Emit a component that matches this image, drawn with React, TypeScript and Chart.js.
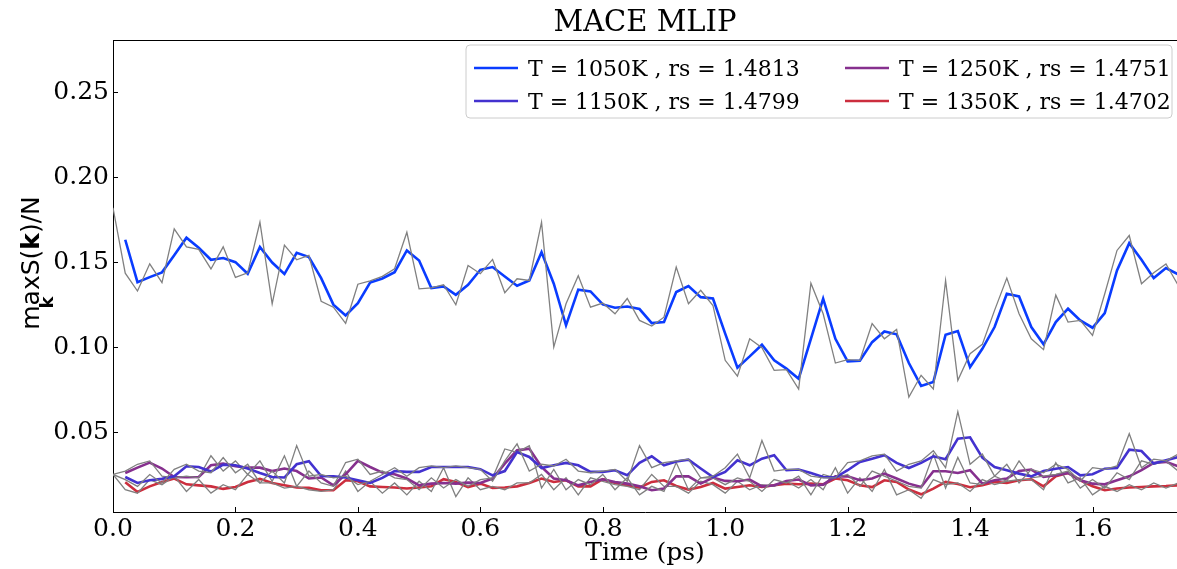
import React, { useEffect, useRef } from "react";
import { Chart, registerables } from "chart.js";

Chart.register(...registerables);

const TITLE = "MACE MLIP";
const X_LABEL = "Time (ps)";
const X_TICKS = [0.0, 0.2, 0.4, 0.6, 0.8, 1.0, 1.2, 1.4, 1.6];
const Y_TICKS = [0.05, 0.1, 0.15, 0.2, 0.25];
const SERIES_LABELS = [
  "T = 1050K , rs = 1.4813",
  "T = 1150K , rs = 1.4799",
  "T = 1250K , rs = 1.4751",
  "T = 1350K , rs = 1.4702",
];
const SERIES_COLORS = ["#0a3cff", "#4332cf", "#86308e", "#cc2e3e"];
const RAW_COLOR = "#808080";

const TIME = [
  0, 0.02, 0.04, 0.06, 0.08, 0.1, 0.12, 0.14, 0.16, 0.18,
  0.2, 0.22, 0.24, 0.26, 0.28, 0.3, 0.32, 0.34, 0.36, 0.38,
  0.4, 0.42, 0.44, 0.46, 0.48, 0.5, 0.52, 0.54, 0.56, 0.58,
  0.6, 0.62, 0.64, 0.66, 0.68, 0.7, 0.72, 0.74, 0.76, 0.78,
  0.8, 0.82, 0.84, 0.86, 0.88, 0.9, 0.92, 0.94, 0.96, 0.98,
  1.0, 1.02, 1.04, 1.06, 1.08, 1.1, 1.12, 1.14, 1.16, 1.18,
  1.2, 1.22, 1.24, 1.26, 1.28, 1.3, 1.32, 1.34, 1.36, 1.38,
  1.4, 1.42, 1.44, 1.46, 1.48, 1.5, 1.52, 1.54, 1.56, 1.58,
  1.6, 1.62, 1.64, 1.66, 1.68, 1.7, 1.72, 1.74,
];

// raw (gray) curves
const RAW_1050 = [
  0.182, 0.1435, 0.133, 0.149, 0.138, 0.1696, 0.159, 0.1575, 0.146, 0.159,
  0.141, 0.1437, 0.1735, 0.1255, 0.16, 0.1514, 0.154, 0.127, 0.1235, 0.114,
  0.137, 0.139, 0.1416, 0.1461, 0.1676, 0.1343, 0.1349, 0.1367, 0.1249, 0.148,
  0.1432, 0.1516, 0.132, 0.1402, 0.1392, 0.1735, 0.1, 0.1255, 0.142, 0.1235,
  0.1259, 0.1196, 0.1286, 0.1157, 0.1124, 0.1176, 0.1471, 0.1255, 0.1334, 0.1245,
  0.0922, 0.0829, 0.1049, 0.0996, 0.0863, 0.0867, 0.0753, 0.1376, 0.1196, 0.0906,
  0.0926, 0.0922, 0.1138, 0.1049, 0.1104, 0.0706, 0.0834, 0.0753, 0.1392, 0.0804,
  0.0961, 0.1016, 0.1216, 0.1406, 0.1196, 0.1049, 0.0985, 0.1306, 0.1147, 0.1157,
  0.1069, 0.1314, 0.1569, 0.1657, 0.1373, 0.1438, 0.149, 0.1363,
];
const RAW_1150 = [
  0.025, 0.022, 0.018, 0.025, 0.02, 0.028, 0.031, 0.027, 0.026, 0.035,
  0.026, 0.031, 0.02, 0.027, 0.02, 0.042, 0.024, 0.025, 0.023, 0.024,
  0.019, 0.021, 0.025, 0.029, 0.024, 0.029, 0.03, 0.029, 0.03, 0.029,
  0.028, 0.021, 0.033, 0.043, 0.027, 0.031, 0.03, 0.034, 0.027, 0.026,
  0.027, 0.028, 0.021, 0.042, 0.029, 0.032, 0.033, 0.034, 0.023, 0.024,
  0.029, 0.037, 0.023, 0.045, 0.027, 0.028, 0.028, 0.024, 0.023, 0.023,
  0.032, 0.033, 0.036, 0.037, 0.027, 0.031, 0.033, 0.039, 0.029, 0.062,
  0.031, 0.037, 0.024, 0.031, 0.02, 0.028, 0.026, 0.031, 0.028, 0.021,
  0.029, 0.028, 0.03, 0.049, 0.029, 0.034, 0.033, 0.037,
];
const RAW_1250 = [
  0.025, 0.027, 0.031, 0.033, 0.024, 0.023, 0.024, 0.023, 0.036, 0.027,
  0.033, 0.025, 0.033, 0.021, 0.036, 0.018, 0.027, 0.02, 0.018, 0.032,
  0.034, 0.025, 0.027, 0.023, 0.022, 0.016, 0.023, 0.017, 0.022, 0.018,
  0.022, 0.023, 0.04, 0.038, 0.042, 0.017, 0.028, 0.016, 0.022, 0.019,
  0.025, 0.016, 0.023, 0.013, 0.018, 0.015, 0.032, 0.016, 0.023, 0.023,
  0.019, 0.023, 0.021, 0.015, 0.022, 0.02, 0.024, 0.013, 0.025, 0.023,
  0.025, 0.018, 0.027, 0.024, 0.021, 0.018, 0.017, 0.037, 0.017, 0.035,
  0.02, 0.019, 0.024, 0.021, 0.033, 0.023, 0.024, 0.025, 0.027, 0.017,
  0.022, 0.017, 0.026, 0.022, 0.033, 0.031, 0.033, 0.027,
];
const RAW_1350 = [
  0.025, 0.016, 0.014, 0.022, 0.019, 0.024, 0.015, 0.022, 0.014, 0.019,
  0.016, 0.025, 0.02, 0.02, 0.017, 0.018, 0.016, 0.015, 0.016, 0.027,
  0.015, 0.021, 0.014, 0.02, 0.013, 0.021, 0.015, 0.029, 0.012, 0.023,
  0.016, 0.018, 0.016, 0.02, 0.02, 0.025, 0.016, 0.023, 0.013, 0.023,
  0.021, 0.019, 0.018, 0.016, 0.025, 0.018, 0.018, 0.014, 0.021, 0.019,
  0.014, 0.021, 0.016, 0.019, 0.018, 0.021, 0.017, 0.022, 0.016, 0.029,
  0.014, 0.023, 0.015, 0.028, 0.013, 0.016, 0.011, 0.022, 0.019, 0.02,
  0.015, 0.022, 0.019, 0.021, 0.022, 0.022, 0.016, 0.032, 0.02, 0.023,
  0.013, 0.018, 0.015, 0.019, 0.016, 0.02, 0.017, 0.02,
];

// smoothed (coloured) curves, first sample undefined
const SMOOTH_1050 = [
  null, 0.1632, 0.1382, 0.1412, 0.144, 0.154, 0.1644, 0.1585, 0.1514, 0.1524,
  0.15, 0.1432, 0.159, 0.1498, 0.143, 0.1555, 0.153, 0.1406, 0.125, 0.1186,
  0.1259, 0.138, 0.1404, 0.1441, 0.1569, 0.151, 0.1347, 0.1357, 0.1308, 0.1367,
  0.1455, 0.1471, 0.1416, 0.1361, 0.1392, 0.1559, 0.1373, 0.1128, 0.1338, 0.1328,
  0.1251, 0.1232, 0.1239, 0.1224, 0.1141, 0.1147, 0.1324, 0.1359, 0.1294, 0.1286,
  0.1079, 0.0879, 0.0945, 0.1014, 0.0922, 0.0873, 0.0814, 0.1049, 0.1285, 0.1049,
  0.0916, 0.092, 0.1029, 0.1092, 0.1075, 0.0906, 0.0771, 0.0794, 0.1073, 0.1094,
  0.0882, 0.099, 0.1118, 0.1314, 0.1298, 0.1118, 0.1016, 0.1147, 0.1226, 0.1157,
  0.1114, 0.12, 0.1451, 0.1612, 0.1514, 0.1406, 0.1465, 0.1428,
];
const SMOOTH_1150 = [
  null, 0.0235, 0.02, 0.0216, 0.0224, 0.0239, 0.0298, 0.0294, 0.0267, 0.0308,
  0.0304, 0.0285, 0.0259, 0.0235, 0.0232, 0.031, 0.0328, 0.0241, 0.0239, 0.0232,
  0.0216, 0.02, 0.023, 0.027, 0.0265, 0.0265, 0.0294, 0.0294, 0.0294, 0.0294,
  0.0281, 0.0245, 0.027, 0.0382, 0.0353, 0.0288, 0.0304, 0.0318, 0.0304, 0.0265,
  0.0265, 0.0275, 0.0245, 0.0318, 0.0357, 0.0304, 0.0326, 0.0337, 0.0285, 0.0235,
  0.0265, 0.0333, 0.0304, 0.0343, 0.0363, 0.0275, 0.0279, 0.0259, 0.0235, 0.0232,
  0.0275, 0.0324, 0.0343, 0.0363, 0.0318, 0.0288, 0.0318, 0.0357, 0.034, 0.0461,
  0.0469, 0.0349, 0.0294, 0.0275, 0.0255, 0.0239, 0.027, 0.0284, 0.0294, 0.0245,
  0.0251, 0.0284, 0.0288, 0.0396, 0.0388, 0.0314, 0.0333, 0.0353,
];
const SMOOTH_1250 = [
  null, 0.0259, 0.029, 0.032, 0.0285, 0.0235, 0.0234, 0.0235, 0.0304, 0.0314,
  0.0298, 0.029, 0.029, 0.027, 0.0285, 0.027, 0.0226, 0.0232, 0.0186, 0.0251,
  0.033, 0.0294, 0.0261, 0.0251, 0.0226, 0.0186, 0.0196, 0.02, 0.0196, 0.0202,
  0.02, 0.0226, 0.0314, 0.0392, 0.0402, 0.0294, 0.0226, 0.0216, 0.0186, 0.0206,
  0.0222, 0.0206, 0.0196, 0.018, 0.0157, 0.0167, 0.0239, 0.0239, 0.0196, 0.0232,
  0.0212, 0.021, 0.022, 0.018, 0.0186, 0.0212, 0.022, 0.0186, 0.019, 0.0239,
  0.0239, 0.0216, 0.0226, 0.0255, 0.0226, 0.0196, 0.0176, 0.0269, 0.0269, 0.0259,
  0.0275, 0.0196, 0.0216, 0.0226, 0.027, 0.0279, 0.0235, 0.0245, 0.0259, 0.0216,
  0.0196, 0.0192, 0.0216, 0.0239, 0.0275, 0.0318, 0.0324, 0.0298,
];
const SMOOTH_1350 = [
  null, 0.0204, 0.0147, 0.018, 0.0206, 0.0226, 0.0192, 0.0186, 0.018, 0.0165,
  0.0176, 0.0206, 0.0224, 0.02, 0.0186, 0.0173, 0.0171, 0.0157, 0.0157, 0.0216,
  0.021, 0.018, 0.0176, 0.0173, 0.0167, 0.0173, 0.018, 0.0222, 0.0206, 0.0176,
  0.0196, 0.0171, 0.0173, 0.018, 0.02, 0.0226, 0.0206, 0.0216, 0.018, 0.018,
  0.0222, 0.02, 0.0186, 0.0173, 0.0206, 0.0216, 0.0182, 0.0161, 0.0176, 0.02,
  0.0167, 0.0176, 0.0186, 0.0176, 0.0186, 0.0196, 0.0192, 0.0196, 0.0192, 0.0226,
  0.0216, 0.0186, 0.0176, 0.0216, 0.0206, 0.0161, 0.0133, 0.0167, 0.0206, 0.0194,
  0.0175, 0.0186, 0.0206, 0.02, 0.0216, 0.0222, 0.018, 0.0239, 0.0259, 0.0216,
  0.018, 0.0157, 0.0167, 0.0173, 0.0176, 0.018, 0.0182, 0.0186,
];

const RAW = [RAW_1050, RAW_1150, RAW_1250, RAW_1350];
const SMOOTH = [SMOOTH_1050, SMOOTH_1150, SMOOTH_1250, SMOOTH_1350];

const X_MIN = 0;
const X_MAX = 1.738;
const Y_MIN = 0.0029;
const Y_MAX = 0.2808;

const SERIF = '"DejaVu Serif", serif';
const SANS = '"DejaVu Sans", sans-serif';

const toPoints = (ys: (number | null)[]) => TIME.map((t, i) => ({ x: t, y: ys[i] }));

const decorPlugin = {
  id: "decor",
  afterDraw(chart: any) {
    const { ctx, chartArea, scales } = chart;
    const { left, right, top, bottom } = chartArea;
    ctx.save();
    // top spine
    ctx.strokeStyle = "#000";
    ctx.lineWidth = 1;
    ctx.beginPath();
    ctx.moveTo(left, top + 0.5);
    ctx.lineTo(right, top + 0.5);
    ctx.stroke();
    // inward ticks
    ctx.beginPath();
    X_TICKS.forEach((v) => {
      const px = Math.round(scales.x.getPixelForValue(v)) + 0.5;
      ctx.moveTo(px, bottom);
      ctx.lineTo(px, bottom - 5);
    });
    Y_TICKS.forEach((v) => {
      const py = Math.round(scales.y.getPixelForValue(v)) + 0.5;
      ctx.moveTo(left, py);
      ctx.lineTo(left + 5, py);
    });
    ctx.stroke();

    // title
    ctx.fillStyle = "#000";
    ctx.font = `29px ${SERIF}`;
    ctx.textAlign = "center";
    ctx.textBaseline = "alphabetic";
    ctx.fillText(TITLE, (left + right) / 2, 31);

    // x label
    ctx.font = `25px ${SERIF}`;
    ctx.fillText(X_LABEL, (left + right) / 2, 560);

    // y label: max_k S(k)/N
    ctx.save();
    ctx.translate(39, 263);
    ctx.rotate(-Math.PI / 2);
    ctx.textAlign = "left";
    const reg = `25px ${SANS}`;
    const bold = `bold 25px ${SANS}`;
    ctx.font = reg;
    const wMax = ctx.measureText("max").width;
    const wS = ctx.measureText("S(").width;
    const wEnd = ctx.measureText(")/N").width;
    ctx.font = bold;
    const wK = ctx.measureText("k").width;
    const total = wMax + wS + wK + wEnd;
    const x0 = -total / 2;
    ctx.font = reg;
    ctx.fillText("max", x0, 0);
    ctx.fillText("S(", x0 + wMax, 0);
    ctx.font = bold;
    ctx.fillText("k", x0 + wMax + wS, 0);
    ctx.font = reg;
    ctx.fillText(")/N", x0 + wMax + wS + wK, 0);
    ctx.font = `bold 18px ${SANS}`;
    ctx.textAlign = "center";
    ctx.fillText("k", x0 + wMax / 2, 14);
    ctx.restore();

    // legend
    const bx = 466, by = 45, bw = 706, bh = 73, r = 4;
    ctx.beginPath();
    ctx.moveTo(bx + r, by);
    ctx.lineTo(bx + bw - r, by);
    ctx.quadraticCurveTo(bx + bw, by, bx + bw, by + r);
    ctx.lineTo(bx + bw, by + bh - r);
    ctx.quadraticCurveTo(bx + bw, by + bh, bx + bw - r, by + bh);
    ctx.lineTo(bx + r, by + bh);
    ctx.quadraticCurveTo(bx, by + bh, bx, by + bh - r);
    ctx.lineTo(bx, by + r);
    ctx.quadraticCurveTo(bx, by, bx + r, by);
    ctx.closePath();
    ctx.fillStyle = "rgba(255,255,255,0.8)";
    ctx.fill();
    ctx.strokeStyle = "#cccccc";
    ctx.lineWidth = 1;
    ctx.stroke();

    const colX = [474, 845];
    const rowY = [68, 101];
    ctx.font = `22px ${SERIF}`;
    ctx.textAlign = "left";
    ctx.textBaseline = "alphabetic";
    SERIES_LABELS.forEach((lab, i) => {
      const cx = colX[Math.floor(i / 2)];
      const cy = rowY[i % 2];
      ctx.strokeStyle = SERIES_COLORS[i];
      ctx.lineWidth = 2.5;
      ctx.beginPath();
      ctx.moveTo(cx, cy);
      ctx.lineTo(cx + 44, cy);
      ctx.stroke();
      ctx.fillStyle = "#000";
      ctx.fillText(lab, cx + 54, cy + 8);
    });
    ctx.restore();
  },
};

export default function App() {
  const ref = useRef<HTMLCanvasElement | null>(null);
  useEffect(() => {
    document.body.style.margin = "0";
    const canvas = ref.current;
    if (!canvas) return;
    const datasets: any[] = [];
    SERIES_LABELS.forEach((lab, i) => {
      datasets.push({
        label: lab + " raw",
        data: toPoints(RAW[i]),
        borderColor: RAW_COLOR,
        borderWidth: 1.3,
        pointRadius: 0,
        fill: false,
        tension: 0,
      });
      datasets.push({
        label: lab,
        data: toPoints(SMOOTH[i]),
        borderColor: SERIES_COLORS[i],
        borderWidth: 2.6,
        pointRadius: 0,
        fill: false,
        tension: 0,
        spanGaps: false,
      });
    });
    const chart = new Chart(canvas, {
      type: "line",
      data: { datasets },
      options: {
        animation: false,
        responsive: false,
        devicePixelRatio: 1,
        layout: { padding: { top: 40, left: 0, right: 0, bottom: 0 } },
        plugins: { legend: { display: false }, title: { display: false }, tooltip: { enabled: false } },
        scales: {
          x: {
            type: "linear",
            min: X_MIN,
            max: X_MAX,
            afterFit: (s: any) => { s.height = 57; },
            afterBuildTicks: (s: any) => { s.ticks = X_TICKS.map((v) => ({ value: v })); },
            ticks: {
              callback: (v: any) => Number(v).toFixed(1),
              font: { family: SERIF, size: 25 },
              color: "#000",
              padding: 2,
              maxRotation: 0,
              autoSkip: false,
            },
            grid: { display: false, drawTicks: false },
            border: { display: true, color: "#000", width: 1 },
          },
          y: {
            type: "linear",
            min: Y_MIN,
            max: Y_MAX,
            afterFit: (s: any) => { s.width = 113; },
            afterBuildTicks: (s: any) => { s.ticks = Y_TICKS.map((v) => ({ value: v })); },
            ticks: {
              callback: (v: any) => Number(v).toFixed(2),
              font: { family: SERIF, size: 25 },
              color: "#000",
              padding: 4,
              autoSkip: false,
            },
            grid: { display: false, drawTicks: false },
            border: { display: true, color: "#000", width: 1 },
          },
        },
      },
      plugins: [decorPlugin],
    });
    return () => chart.destroy();
  }, []);
  return <canvas ref={ref} width={1177} height={569} style={{ display: "block", width: 1177, height: 569 }} />;
}
